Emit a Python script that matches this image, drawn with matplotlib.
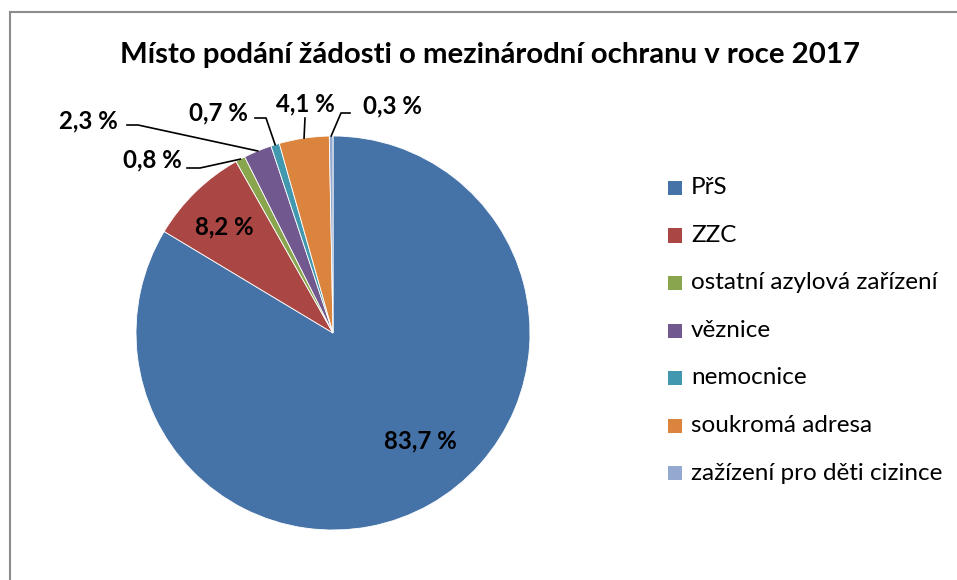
import numpy as np
import matplotlib.pyplot as plt
from matplotlib.patches import Rectangle

plt.rcParams['font.family'] = ['Lato', 'DejaVu Sans']

labels = ["PřS", "ZZC", "ostatní azylová zařízení", "věznice", "nemocnice",
          "soukromá adresa", "zažízení pro děti cizince"]
shares = [83.7, 8.2, 0.8, 2.3, 0.7, 4.1, 0.3]
colors = ["#4572A7", "#AA4643", "#89A54E", "#71588F", "#4198AF",
          "#DB843D", "#93A9CF"]
title = "Místo podání žádosti o mezinárodní ochranu v roce 2017"

W, H = 957, 580
cx, cy, R = 333, 333, 197

fig = plt.figure(figsize=(W / 100, H / 100), dpi=100, facecolor="white")

# chart frame (only top and left edges visible in the crop)
fig.add_artist(plt.Line2D([10 / W, 10 / W], [0, 1 - 12 / H], color="#8c8c8c", lw=1.5))
fig.add_artist(plt.Line2D([10 / W, 1], [1 - 12 / H, 1 - 12 / H], color="#8c8c8c", lw=1.5))

ax = fig.add_axes([(cx - R) / W, (H - cy - R) / H, 2 * R / W, 2 * R / H])
wedges, _ = ax.pie(shares, colors=colors, startangle=90, counterclock=False,
                   radius=1, wedgeprops=dict(edgecolor="white", linewidth=0.6))
ax.set_xlim(-1, 1)
ax.set_ylim(-1, 1)
ax.set_aspect("equal")
ax.axis("off")


def px(x, y):
    return (x - cx) / R, (cy - y) / R


# label placement in pixels: (text x, text y, elbow points or None)
label_pos = [
    (420, 441, None),
    (224, 227, None),
    (152, 160, [(187, 168), (200, 168)]),
    (88, 121, [(127, 125), (138, 125)]),
    (218, 113, [(255, 118), (266, 118)]),
    (305, 104, [(305, 118)]),
    (392, 106, [(350, 113), (341, 113)]),
]

for w, val, (tx, ty, elbow) in zip(wedges, shares, label_pos):
    ang = np.deg2rad((w.theta1 + w.theta2) / 2)
    txt = f"{val:.1f} %".replace(".", ",")
    ax.text(*px(tx, ty), txt, ha="center", va="center", fontsize=17.3,
            fontweight="bold", color="black", clip_on=False)
    if elbow:
        pts = [px(*p) for p in elbow] + [(np.cos(ang), np.sin(ang))]
        xs, ys = zip(*pts)
        ax.plot(xs, ys, color="black", lw=1.2, clip_on=False)

fig.text(490 / W, 1 - 55 / H, title, ha="center", va="center",
         fontsize=21.2, fontweight="bold")

# legend
for i, (lab, col) in enumerate(zip(labels, colors)):
    y = 188 + i * 47.5
    fig.add_artist(Rectangle((668 / W, 1 - (y + 7) / H), 14 / W, 14 / H,
                             facecolor=col, edgecolor="none"))
    fig.text(691 / W, 1 - y / H, lab, ha="left", va="center", fontsize=17.5)

plt.savefig("out.png", dpi=100)
